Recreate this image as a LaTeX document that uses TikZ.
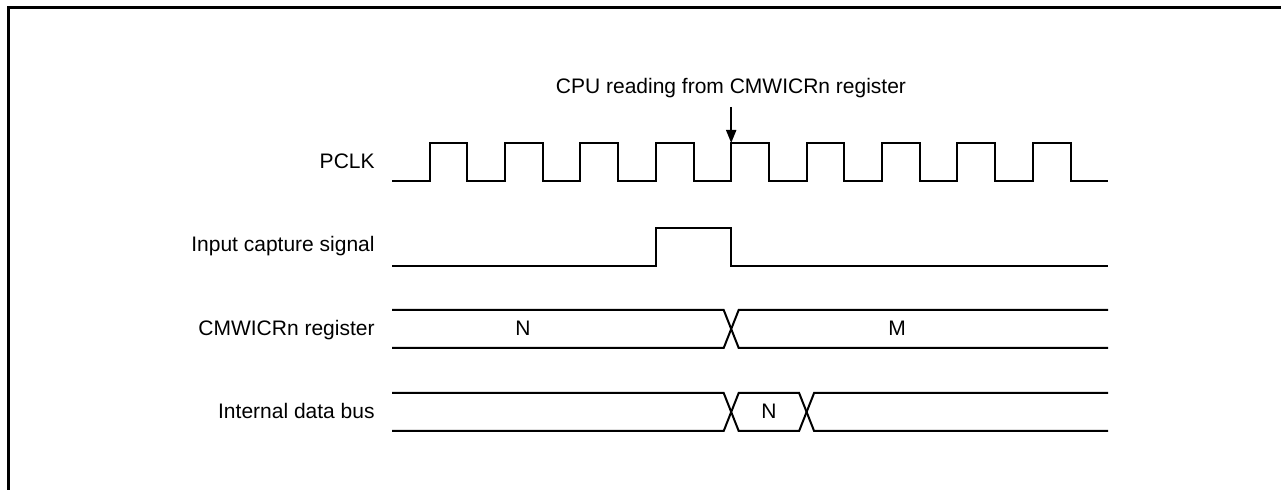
\documentclass[tikz,border=0pt]{standalone}
\usepackage{fontspec}
\setmainfont{Liberation Sans}
\usetikzlibrary{arrows.meta}
\tikzset{
  x=0.5pt, y=-0.5pt,
  wave/.style={line width=1pt, line join=miter},
  lbl/.style={anchor=base east, inner sep=0pt, font=\fontsize{10.5}{12}\selectfont},
  val/.style={anchor=base, inner sep=0pt, font=\fontsize{10.5}{12}\selectfont},
  frame/.style={line width=1.4pt},
  readarrow/.style={line width=1pt, -{Triangle[length=6.5pt,width=5pt]}}
}
\begin{document}
\begin{tikzpicture}
\useasboundingbox (0,0) rectangle (1281,490);
% partial frame
\draw[frame] (8.7,490) -- (8.7,7.2) -- (1281,7.2);

% labels
\node[lbl] (lpclk) at (375,169) {PCLK};
\node[lbl] (lics) at (375,252) {Input capture signal};
\node[lbl] (lreg) at (375,336) {CMWICRn register};
\node[lbl] (lbus) at (375,419) {Internal data bus};

% CPU read annotation
\node[val] (cpu) at (731,94) {CPU reading from CMWICRn register};
\coordinate (astart) at (731.2,107);
\coordinate (tip) at (731.2,143);
\draw[readarrow] (astart) -- (tip);

% PCLK
\draw[wave] (392,181)
  \foreach \k in {0,...,8}{
    -- ({429.6+75.4*\k},181) -- ({429.6+75.4*\k},143)
    -- ({467.3+75.4*\k},143) -- ({467.3+75.4*\k},181)}
  -- (1108,181);

% Input capture signal
\draw[wave] (392,266) -- (655.8,266) -- (655.8,228) -- (731.2,228) -- (731.2,266) -- (1108,266);

% CMWICRn register
\draw[wave] (392,310) -- (723.7,310) -- (738.7,348) -- (1108,348);
\draw[wave] (392,348) -- (723.7,348) -- (738.7,310) -- (1108,310);
\node[val] (vn) at (523,336) {N};
\node[val] (vm) at (897,336) {M};

% Internal data bus
\draw[wave] (392,393) -- (723.7,393) -- (738.7,431) -- (799.1,431) -- (814.1,393) -- (1108,393);
\draw[wave] (392,431) -- (723.7,431) -- (738.7,393) -- (799.1,393) -- (814.1,431) -- (1108,431);
\node[val] (vn2) at (768.9,419) {N};
\end{tikzpicture}
\end{document}
